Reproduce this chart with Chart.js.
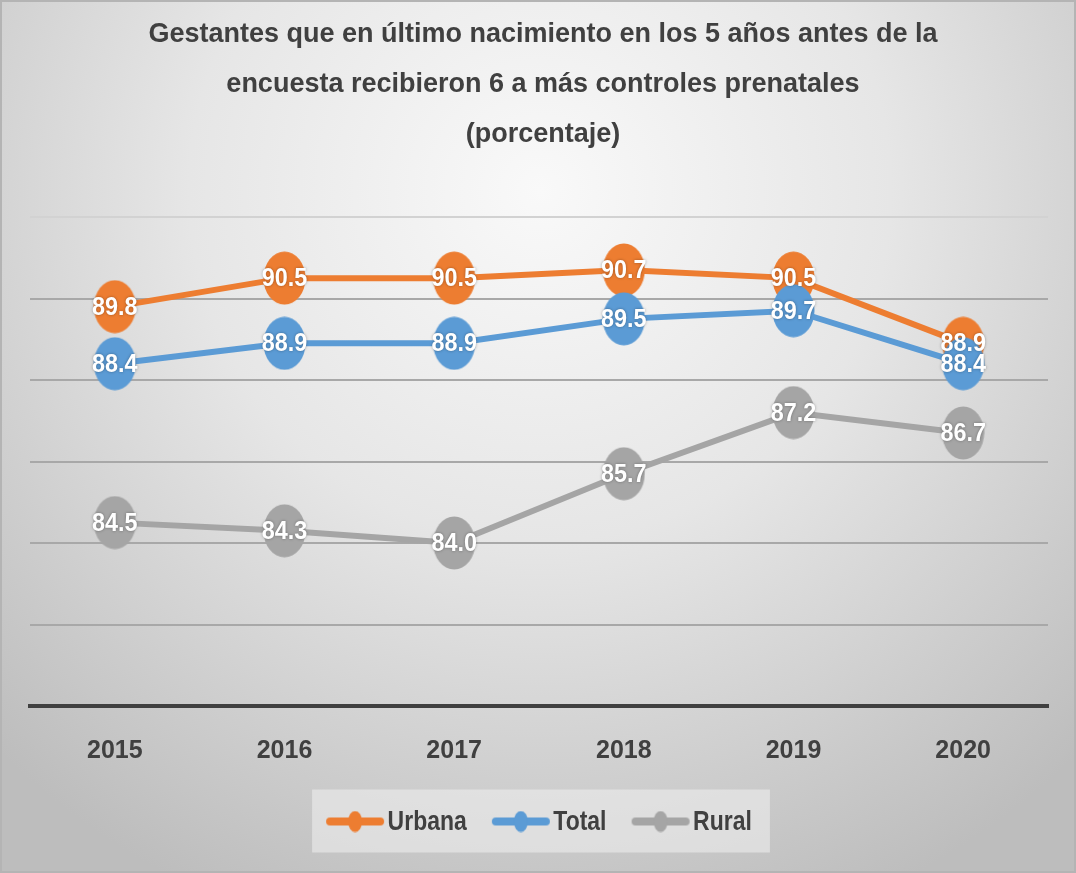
<!DOCTYPE html>
<html>
<head>
<meta charset="utf-8">
<title>Gestantes - controles prenatales</title>
<script src="https://cdn.jsdelivr.net/npm/chart.js@4/dist/chart.umd.min.js"></script>
<style>
  html, body { margin: 0; padding: 0; background: #ffffff; }
  canvas { display: block; }
</style>
</head>
<body>
<canvas id="myChart1" width="1076" height="873"></canvas>
<script>
//------------------ data ------------------//
const YEARS = ['2015', '2016', '2017', '2018', '2019', '2020']
const URBANA = [89.8, 90.5, 90.5, 90.7, 90.5, 88.9]
const TOTAL = [88.4, 88.9, 88.9, 89.5, 89.7, 88.4]
const RURAL = [84.5, 84.3, 84.0, 85.7, 87.2, 86.7]
const Y_MIN = 80
const Y_MAX = 92
const Y_STEP = 2
const TITLE_LINES = [
    'Gestantes que en último nacimiento en los 5 años antes de la',
    'encuesta recibieron 6 a más controles prenatales',
    '(porcentaje)'
]
//------------------------------------------//

// colours / fonts
const ORANGE = '#ED7D31'
const BLUE = '#5B9BD5'
const GRAY = '#A5A5A5'
const TEXT_COLOR = '#404040'
const FONT_FAMILY = '"Liberation Sans", Arial, sans-serif'
const NARROW = 0.82            // horizontal squeeze for the condensed look
const LEGEND_FONT = 23         // size used by the legend for layout
const LEGEND_DRAW_FONT = 28    // size actually drawn (squeezed)
const LEGEND_BOX_W = 42
const CHART_ID = 'myChart1'


/*--------------------------------------------------------------------
make an ellipse marker (canvas used as pointStyle)
--------------------------------------------------------------------*/
function makeEllipse(color, w, h){
    const c = document.createElement('canvas')
    c.width = w
    c.height = h
    const ctx = c.getContext('2d')
    ctx.fillStyle = color
    ctx.beginPath()
    ctx.ellipse(w / 2, h / 2, w / 2 - 0.5, h / 2 - 0.5, 0, 0, Math.PI * 2)
    ctx.fill()
    return c
}

/*--------------------------------------------------------------------
legend icon: line with a small marker in the middle
--------------------------------------------------------------------*/
function makeLegendIcon(color){
    const c = document.createElement('canvas')
    c.width = 60
    c.height = 22
    const ctx = c.getContext('2d')
    ctx.strokeStyle = color
    ctx.lineWidth = 8
    ctx.lineCap = 'round'
    ctx.beginPath()
    ctx.moveTo(5, 11)
    ctx.lineTo(55, 11)
    ctx.stroke()
    ctx.fillStyle = color
    ctx.beginPath()
    ctx.ellipse(30, 11, 7, 10.5, 0, 0, Math.PI * 2)
    ctx.fill()
    return c
}

const LEGEND_ICONS = [makeLegendIcon(ORANGE), makeLegendIcon(BLUE), makeLegendIcon(GRAY)]

/*--------------------------------------------------------------------
background gradient + legend box
--------------------------------------------------------------------*/
const backgroundPlugin = {
    id: 'backgroundPlugin',
    beforeDraw(chart){
        const ctx = chart.ctx
        const w = chart.width
        const h = chart.height
        ctx.save()
        const grad = ctx.createRadialGradient(540, 190, 0, 540, 190, 780)
        grad.addColorStop(0, '#f9f9f9')
        grad.addColorStop(0.45, '#e6e6e6')
        grad.addColorStop(1, '#bdbdbd')
        ctx.fillStyle = grad
        ctx.fillRect(0, 0, w, h)
        ctx.strokeStyle = '#b4b4b4'
        ctx.lineWidth = 2
        ctx.strokeRect(1, 1, w - 2, h - 2)

        // legend box
        const hb = chart.legend && chart.legend.legendHitBoxes
        if (hb && hb.length){
            const first = hb[0]
            const last = hb[hb.length - 1]
            const cy = first.top + first.height / 2
            const x0 = first.left - 22
            const x1 = last.left + last.width + 18
            ctx.fillStyle = 'rgba(240,240,240,0.55)'
            ctx.fillRect(x0, cy - 32, x1 - x0, 63)
        }
        ctx.restore()
    },
    // legend text, drawn squeezed on top of the (transparent) legend text
    afterDraw(chart){
        const hb = chart.legend && chart.legend.legendHitBoxes
        if (!hb) return
        const ctx = chart.ctx
        ctx.save()
        ctx.font = 'bold ' + LEGEND_DRAW_FONT + 'px ' + FONT_FAMILY
        ctx.fillStyle = TEXT_COLOR
        ctx.textAlign = 'left'
        ctx.textBaseline = 'middle'
        chart.legend.legendItems.forEach(function(item, i){
            const box = hb[i]
            ctx.save()
            ctx.translate(box.left + LEGEND_BOX_W + LEGEND_FONT / 2, box.top + box.height / 2 + 1)
            ctx.scale(NARROW, 1)
            ctx.fillText(item.text, 0, 0)
            ctx.restore()
        })
        ctx.restore()
    }
}

/*--------------------------------------------------------------------
value labels drawn on top of every marker
--------------------------------------------------------------------*/
const valueLabelPlugin = {
    id: 'valueLabelPlugin',
    afterDatasetsDraw(chart){
        const ctx = chart.ctx
        ctx.save()
        ctx.font = 'bold 26px ' + FONT_FAMILY
        ctx.textAlign = 'center'
        ctx.textBaseline = 'middle'
        ctx.fillStyle = '#ffffff'
        ctx.shadowColor = 'rgba(0,0,0,0.35)'
        ctx.shadowBlur = 3
        for (let i = 0; i < chart.data.datasets.length; i++){
            const meta = chart.getDatasetMeta(i)
            const values = chart.data.datasets[i].data
            meta.data.forEach(function(pt, j){
                ctx.save()
                ctx.translate(pt.x, pt.y + 1)
                ctx.scale(0.9, 1)
                ctx.fillText(values[j].toFixed(1), 0, 0)
                ctx.restore()
            })
        }
        ctx.restore()
    }
}

function lineDataset(label, data, color, order){
    return {
        label: label,
        data: data,
        borderColor: color,
        backgroundColor: color,
        borderWidth: 6,
        tension: 0,
        pointStyle: makeEllipse(color, 43, 54),
        pointRadius: 22,
        pointHoverRadius: 22,
        order: order,
        clip: false
    }
}

const ctx = document.getElementById(CHART_ID)
window.myChart = new Chart(ctx, {
    type: 'line',
    data: {
        labels: YEARS,
        datasets: [
            lineDataset('Urbana', URBANA, ORANGE, 3),
            lineDataset('Total', TOTAL, BLUE, 2),
            lineDataset('Rural', RURAL, GRAY, 1)
        ]
    },
    options: {
        responsive: false,
        animation: false,
        events: [],
        layout: {
            padding: {left: 30, right: 20, top: 0, bottom: 30}
        },
        scales: {
            x: {
                offset: true,
                grid: {display: false, drawTicks: false},
                border: {display: true, color: TEXT_COLOR, width: 4, z: 1},
                ticks: {
                    color: TEXT_COLOR,
                    padding: 30,
                    font: {family: FONT_FAMILY, size: 25, weight: 'bold'}
                },
                afterFit: function(scale){
                    scale.height -= 19
                }
            },
            y: {
                min: Y_MIN,
                max: Y_MAX,
                ticks: {display: false, stepSize: Y_STEP},
                border: {display: false},
                grid: {
                    drawTicks: false,
                    lineWidth: 2,
                    color: function(c){
                        return c.tick && c.tick.value == Y_MAX ? '#d2d2d2' : '#a8a8a8'
                    }
                }
            }
        },
        plugins: {
            tooltip: {enabled: false},
            title: {
                display: true,
                text: TITLE_LINES,
                color: TEXT_COLOR,
                font: {family: FONT_FAMILY, size: 27, weight: 'bold', lineHeight: 50 / 27},
                padding: {top: 10, bottom: 57}
            },
            legend: {
                display: true,
                position: 'bottom',
                labels: {
                    usePointStyle: true,
                    pointStyleWidth: LEGEND_BOX_W,
                    padding: 33,
                    color: 'rgba(0,0,0,0)',
                    font: {family: FONT_FAMILY, size: LEGEND_FONT, weight: 'bold'},
                    generateLabels: function(chart){
                        return chart.data.datasets.map(function(ds, i){
                            return {
                                text: ds.label,
                                fontColor: 'rgba(0,0,0,0)',
                                fillStyle: ds.borderColor,
                                strokeStyle: ds.borderColor,
                                lineWidth: 0,
                                pointStyle: LEGEND_ICONS[i],
                                hidden: false,
                                datasetIndex: i
                            }
                        })
                    }
                }
            }
        }
    },
    plugins: [backgroundPlugin, valueLabelPlugin]
});
</script>
</body>
</html>
